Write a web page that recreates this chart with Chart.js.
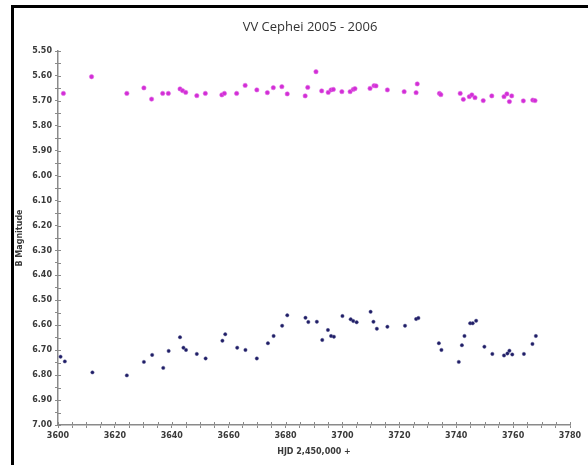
<!DOCTYPE html>
<html>
<head>
<meta charset="utf-8">
<title>VV Cephei 2005 - 2006</title>
<script src="https://cdn.jsdelivr.net/npm/chart.js@4.4.1/dist/chart.umd.min.js"></script>
<style>
  body { margin: 0; background: #fff; }
  .wrap { position: relative; width: 588px; height: 465px; }
  .frame { position: absolute; left: 11px; top: 5px; right: 0; bottom: 0; border-top: 3px solid #000; border-left: 3px solid #000; pointer-events: none; }
  canvas { position: absolute; left: 0; top: 0; }
</style>
</head>
<body>
<div class="wrap">
  <canvas id="myChart" width="588" height="465"></canvas>
  <div class="frame"></div>
</div>
<script>
// upper series (magenta)
const upperJD = [3601.9, 3611.8, 3624.2, 3630.2, 3632.9, 3636.8, 3638.8, 3642.9, 3643.8, 3644.9,
  3648.8, 3651.8, 3657.6, 3658.5, 3662.8, 3665.8, 3669.9, 3673.6, 3675.7, 3678.7,
  3680.6, 3686.9, 3687.8, 3690.7, 3692.7, 3695.0, 3696.0, 3696.8, 3699.8, 3702.7,
  3703.8, 3704.4, 3709.7, 3711.1, 3711.8, 3715.8, 3721.7, 3725.9, 3726.3, 3734.1,
  3734.6, 3741.4, 3742.5, 3744.6, 3745.5, 3746.6, 3749.5, 3752.5, 3756.8, 3757.8,
  3758.7, 3759.5, 3763.6, 3766.9, 3767.7];
const upperMag = [5.670, 5.603, 5.670, 5.648, 5.693, 5.670, 5.670, 5.652, 5.659, 5.666,
  5.679, 5.670, 5.676, 5.670, 5.670, 5.638, 5.656, 5.667, 5.647, 5.643,
  5.672, 5.680, 5.646, 5.583, 5.660, 5.666, 5.656, 5.654, 5.663, 5.663,
  5.654, 5.651, 5.650, 5.639, 5.640, 5.656, 5.663, 5.667, 5.632, 5.670,
  5.675, 5.670, 5.694, 5.683, 5.676, 5.687, 5.699, 5.680, 5.683, 5.672,
  5.703, 5.680, 5.700, 5.697, 5.699];

// lower series (dark blue)
const lowerJD = [3600.9, 3602.4, 3612.1, 3624.2, 3630.2, 3633.1, 3637.0, 3638.9, 3642.9, 3644.1,
  3645.0, 3648.8, 3651.9, 3657.8, 3658.8, 3663.0, 3665.9, 3669.9, 3673.8, 3675.8,
  3678.8, 3680.6, 3687.0, 3688.0, 3691.0, 3692.9, 3694.9, 3696.0, 3697.0, 3700.0,
  3702.9, 3703.8, 3705.0, 3709.9, 3710.9, 3712.1, 3715.8, 3722.0, 3725.9, 3726.7,
  3733.9, 3734.8, 3740.9, 3742.0, 3742.9, 3744.9, 3745.8, 3747.0, 3749.9, 3752.7,
  3756.8, 3758.0, 3758.7, 3759.7, 3763.8, 3766.8, 3768.0];
const lowerMag = [6.726, 6.745, 6.789, 6.801, 6.747, 6.719, 6.771, 6.703, 6.648, 6.690,
  6.699, 6.715, 6.733, 6.662, 6.636, 6.690, 6.699, 6.733, 6.672, 6.643,
  6.602, 6.560, 6.570, 6.587, 6.586, 6.659, 6.619, 6.643, 6.646, 6.563,
  6.576, 6.583, 6.588, 6.546, 6.586, 6.614, 6.606, 6.602, 6.575, 6.571,
  6.672, 6.699, 6.747, 6.680, 6.643, 6.592, 6.592, 6.582, 6.686, 6.715,
  6.721, 6.713, 6.702, 6.717, 6.715, 6.675, 6.643];

const titleText = 'VV Cephei 2005 - 2006';
const xTitle = 'HJD 2,450,000 +';
const yTitle = 'B Magnitude';

const toPoints = (xs, ys) => xs.map((x, i) => ({ x: x, y: ys[i] }));

// ticks drawn across the axis line, plus the title
const crossTicks = {
  id: 'crossTicks',
  afterDraw(chart) {
    const ctx = chart.ctx;
    const { x, y } = chart.scales;
    const area = chart.chartArea;
    ctx.save();
    ctx.strokeStyle = '#8a8a8a';
    ctx.lineWidth = 1;
    ctx.beginPath();
    y.ticks.forEach((t) => {
      const py = Math.round(y.getPixelForValue(t.value)) + 0.5;
      ctx.moveTo(area.left, py);
      ctx.lineTo(area.left + 3, py);
    });
    x.ticks.forEach((t) => {
      const px = Math.round(x.getPixelForValue(t.value)) + 0.5;
      ctx.moveTo(px, area.bottom);
      ctx.lineTo(px, area.bottom - 3);
    });
    ctx.stroke();
    ctx.fillStyle = '#333';
    ctx.font = '13px "Open Sans", sans-serif';
    ctx.textAlign = 'center';
    ctx.textBaseline = 'middle';
    ctx.fillText(titleText, (area.left + area.right) / 2 - 4, 27);
    ctx.restore();
  },
};

const tickFont = { family: '"DejaVu Sans", sans-serif', size: 8, weight: 'bold' };

new Chart(document.getElementById('myChart').getContext('2d'), {
  type: 'scatter',
  data: {
    datasets: [
      {
        label: 'upper',
        data: toPoints(upperJD, upperMag),
        backgroundColor: '#d22ed6',
        borderColor: 'rgba(225, 110, 230, 0.55)',
        borderWidth: 1,
        pointRadius: 2.2,
      },
      {
        label: 'lower',
        data: toPoints(lowerJD, lowerMag),
        backgroundColor: '#1f1d66',
        borderColor: 'rgba(80, 80, 140, 0.45)',
        borderWidth: 1,
        pointRadius: 1.7,
      },
    ],
  },
  options: {
    responsive: false,
    animation: false,
    layout: { padding: { left: 0, top: 51, right: 18, bottom: 0 } },
    plugins: {
      legend: { display: false },
      tooltip: { enabled: false },
    },
    scales: {
      x: {
        type: 'linear',
        min: 3600,
        max: 3780,
        afterFit: (scale) => { scale.height = 40; },
        border: { color: '#8a8a8a', width: 1.5 },
        grid: { drawOnChartArea: false, drawTicks: true, tickLength: 3, color: '#8a8a8a' },
        ticks: {
          stepSize: 5,
          autoSkip: false,
          maxRotation: 0,
          padding: 3,
          color: '#3a3a3a',
          font: tickFont,
          callback: (v) => (Math.round(v) % 20 === 0 ? String(Math.round(v)) : ''),
        },
        title: {
          display: true,
          text: xTitle,
          color: '#3a3a3a',
          font: tickFont,
          padding: { top: 0, bottom: 8 },
        },
      },
      y: {
        type: 'linear',
        reverse: true,
        min: 5.5,
        max: 7.0,
        afterFit: (scale) => { scale.width = 58; },
        border: { color: '#8a8a8a', width: 1.5 },
        grid: { drawOnChartArea: false, drawTicks: true, tickLength: 3, color: '#8a8a8a' },
        ticks: {
          stepSize: 0.05,
          autoSkip: false,
          padding: 3,
          color: '#3a3a3a',
          font: tickFont,
          callback: (v) => (Math.round(v * 100) % 10 === 0 ? v.toFixed(2) : ''),
        },
        title: {
          display: true,
          text: yTitle,
          color: '#3a3a3a',
          font: tickFont,
          padding: { top: 15, bottom: 0 },
        },
      },
    },
  },
  plugins: [crossTicks],
});
</script>
</body>
</html>
